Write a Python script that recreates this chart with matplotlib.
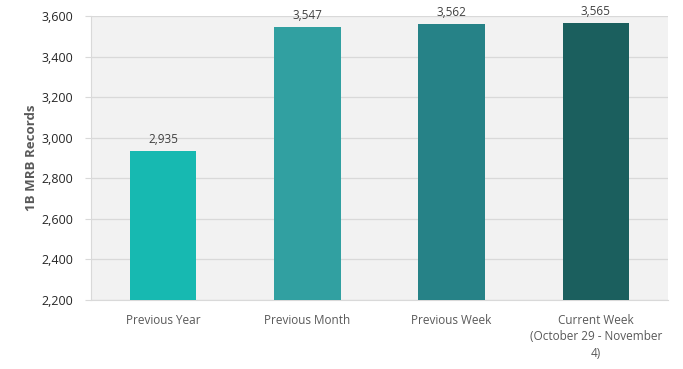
import matplotlib.pyplot as plt

categories = ["Previous Year", "Previous Month", "Previous Week",
              "Current Week\n(October 29 - November\n4)"]
values = [2935, 3547, 3562, 3565]
colors = ["#17b9b1", "#31a0a1", "#268287", "#1b5f5e"]
yticks = [2200, 2400, 2600, 2800, 3000, 3200, 3400, 3600]

plt.rcParams["font.family"] = ["Open Sans", "DejaVu Sans"]

fig = plt.figure(figsize=(6.83, 3.69), dpi=100)
ax = fig.add_axes([91 / 683, 1 - 300 / 369, 577 / 683, 284 / 369])
ax.set_facecolor("#f2f2f2")

x = range(len(categories))
bars = ax.bar(x, values, width=0.46, color=colors, zorder=3)
for b, v in zip(bars, values):
    ax.text(b.get_x() + b.get_width() / 2, v + 25, f"{v:,}", ha="center", va="bottom",
            fontsize=8.5, color="#404040", zorder=4)

ax.set_xlim(-0.5, len(categories) - 0.5)
ax.set_ylim(2200, 3600)
ax.set_yticks(yticks)
ax.set_yticklabels([f"{t:,}" for t in yticks], fontsize=9, color="#262626")
ax.set_xticks(list(x))
ax.set_xticklabels(categories, fontsize=8.5, color="#595959", linespacing=1.35)
ax.tick_params(axis="x", length=0, pad=10)
ax.tick_params(axis="y", length=4, color="#d9d9d9", pad=9)
ax.grid(axis="y", color="#d9d9d9", linewidth=0.9, zorder=0)

for s in ["top", "right"]:
    ax.spines[s].set_visible(False)
ax.spines["left"].set_color("#d9d9d9")
ax.spines["bottom"].set_color("#d9d9d9")

ax.set_ylabel("1B MRB Records", fontsize=9.5, color="#595959", fontweight="bold", labelpad=2)

fig.savefig("out.png", dpi=100)
